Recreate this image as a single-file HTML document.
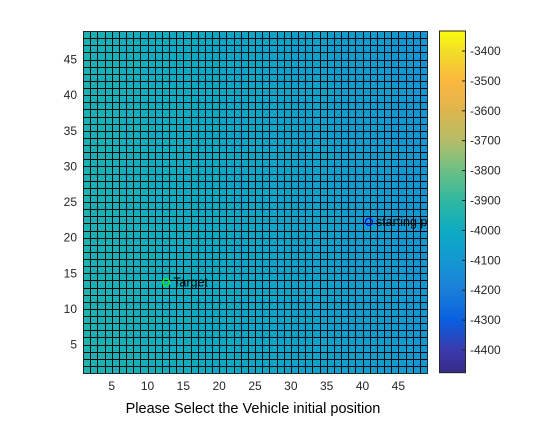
<!DOCTYPE html>
<html><head><meta charset="utf-8"><style>
body{margin:0;background:#fff;width:560px;height:420px;overflow:hidden;font-family:"Liberation Sans",sans-serif}
</style></head><body>
<svg id="c" width="560" height="420" xmlns="http://www.w3.org/2000/svg"></svg>
<script>
const colValues=[-3950,-3953,-3956,-3959,-3962,-3965,-3968,-3971,-3974,-3977,-3980,-3983,-3986,-3989,-3992,-3995,-3998,-4001,-4004,-4007,-4010,-4013,-4016,-4019,-4022,-4025,-4028,-4031,-4034,-4037,-4040,-4043,-4046,-4049,-4052,-4055,-4058,-4061,-4064,-4067,-4070,-4073,-4076,-4079,-4082,-4085,-4088,-4091];
const rowOffsets=[0,0,-1,-1,-2,-2,-3,-3,-3,-4,-4,-4,-5,-5,-5,-5,-6,-6,-6,-6,-6,-7,-7,-7,-7,-7,-8,-8,-8,-8,-8,-8,-9,-9,-9,-9,-9,-9,-10,-10,-10,-10,-10,-10,-10,-11,-11,-11];
const xTicks=[5,10,15,20,25,30,35,40,45];
const yTicks=[5,10,15,20,25,30,35,40,45];
const cbTicks=[-3400,-3500,-3600,-3700,-3800,-3900,-4000,-4100,-4200,-4300,-4400];
const cmapVals=[-4476,-4400,-4300,-4200,-4100,-4000,-3900,-3800,-3700,-3600,-3500,-3400,-3333];
const cmapCols=["#352a87","#3b3aad","#0a5fe0","#1a7fd8","#1497d2","#0dabc2","#30b8a0","#6cbf84","#b4bd68","#deb54d","#fcb73f","#f2de26","#f9fb0e"];
const targetPt=[12.6,13.7], startPt=[40.9,22.2];
const NS="http://www.w3.org/2000/svg", svg=document.getElementById('c');
const L=83,R=427,T=31,B=373,xmin=1,xmax=49,ymin=1,ymax=49;
const xs=v=>L+(v-xmin)/(xmax-xmin)*(R-L), ys=v=>B-(v-ymin)/(ymax-ymin)*(B-T);
const cbT=31,cbB=372.7,cbMin=-4476,cbMax=-3333;
const cbY=v=>cbB-(v-cbMin)/(cbMax-cbMin)*(cbB-cbT);
function hex(h){return [1,3,5].map(i=>parseInt(h.substr(i,2),16));}
function cmap(v){for(let i=0;i<cmapVals.length-1;i++){if(v<=cmapVals[i+1]||i==cmapVals.length-2){let t=Math.max(0,Math.min(1,(v-cmapVals[i])/(cmapVals[i+1]-cmapVals[i])));let a=hex(cmapCols[i]),b=hex(cmapCols[i+1]);return 'rgb('+a.map((x,k)=>Math.round(x+(b[k]-x)*t)).join(',')+')';}}}
function el(t,a,p){const e=document.createElementNS(NS,t);for(const k in a)e.setAttribute(k,a[k]);(p||svg).appendChild(e);return e;}
const cells=el('g',{'shape-rendering':'crispEdges'});


for(let j=0;j<rowOffsets.length;j++)for(let i=0;i<colValues.length;i++){
 const x0=Math.round(xs(i+1)),x1=Math.round(xs(i+2)),y0=Math.round(ys(j+2)),y1=Math.round(ys(j+1));
 const r=el('rect',{x:x0+0.5,y:y0+0.5,width:x1-x0,height:y1-y0,fill:cmap(colValues[i]+rowOffsets[j]),stroke:'#000','stroke-width':1},cells);
 
 
}
const ax=el('g',{'font-size':12,fill:'#262626'});


el('rect',{x:L+0.5,y:T+0.5,width:R-L,height:B-T,fill:'none',stroke:'#262626','stroke-width':1},ax);
xTicks.forEach(v=>{const t=el('text',{x:xs(v),y:B+17,'text-anchor':'middle'},ax);t.textContent=v;});
yTicks.forEach(v=>{const t=el('text',{x:L-6,y:ys(v)+4,'text-anchor':'end'},ax);t.textContent=v;});
const xl=el('text',{x:(L+R)/2-2,y:413,'text-anchor':'middle','font-size':14.5,fill:'#000'});
xl.textContent='Please Select the Vehicle initial position';


const tm=el('circle',{cx:xs(targetPt[0]),cy:ys(targetPt[1]),r:3.5,fill:'none',stroke:'#00ff00','stroke-width':1.2});


const tt=el('text',{x:xs(targetPt[0])+7,y:ys(targetPt[1])+4,'font-size':12.5,fill:'#000'});
tt.textContent='Target';


const sm=el('circle',{cx:xs(startPt[0]),cy:ys(startPt[1]),r:3.5,fill:'none',stroke:'#0000ff','stroke-width':1.2});


el('clipPath',{id:'cp'});el('rect',{x:L,y:T,width:R-L,height:B-T},document.getElementById('cp'));
const st=el('text',{x:xs(startPt[0])+7,y:ys(startPt[1])+4,'font-size':12.5,fill:'#000','clip-path':'url(#cp)'});
st.textContent='starting point';


const cb=el('g',{});


const gd=el('linearGradient',{id:'cg',x1:0,y1:1,x2:0,y2:0});
cmapVals.forEach((v,i)=>el('stop',{offset:(v-cbMin)/(cbMax-cbMin),'stop-color':cmapCols[i]},gd));
el('rect',{x:439.5,y:cbT,width:26,height:cbB-cbT,fill:'url(#cg)',stroke:'#262626','stroke-width':1},cb);
cbTicks.forEach(v=>{const y=cbY(v);el('line',{x1:462,x2:465.5,y1:y,y2:y,stroke:'#262626'},cb);
 const t=el('text',{x:470,y:y+4,'font-size':12,fill:'#262626'},cb);t.textContent=v;});
</script>
</body></html>
